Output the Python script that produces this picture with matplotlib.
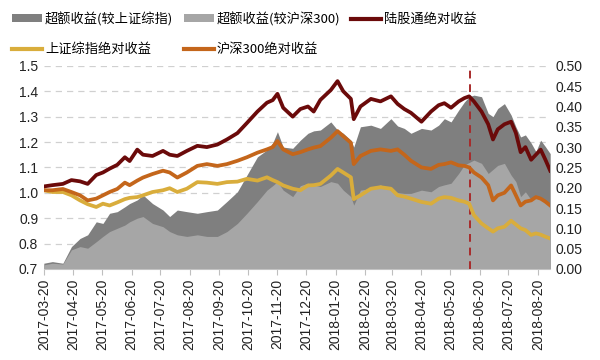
import matplotlib
matplotlib.use("Agg")
import matplotlib.pyplot as plt
import matplotlib.dates as mdates
import pandas as pd
from matplotlib.patches import Patch
from matplotlib.lines import Line2D

plt.rcParams["font.family"] = ["Liberation Sans", "Noto Sans CJK SC", "DejaVu Sans"]

# 日期（按图读取，约每周一个点）
dates = pd.to_datetime([
    "2017-03-20", "2017-03-29", "2017-04-09", "2017-04-18", "2017-04-27", "2017-05-05",
    "2017-05-14", "2017-05-21", "2017-05-28", "2017-06-05", "2017-06-13", "2017-06-18",
    "2017-06-26", "2017-07-02", "2017-07-12", "2017-07-23", "2017-07-30", "2017-08-07",
    "2017-08-17", "2017-08-28", "2017-09-07", "2017-09-18", "2017-09-28", "2017-10-09",
    "2017-10-19", "2017-10-30", "2017-11-09", "2017-11-15", "2017-11-20", "2017-11-26",
    "2017-12-06", "2017-12-14", "2017-12-22", "2017-12-28", "2018-01-04", "2018-01-15",
    "2018-01-22", "2018-01-28", "2018-02-05", "2018-02-08", "2018-02-15", "2018-02-26",
    "2018-03-08", "2018-03-19", "2018-03-26", "2018-04-02", "2018-04-09", "2018-04-20",
    "2018-04-30", "2018-05-08", "2018-05-14", "2018-05-21", "2018-05-29", "2018-06-04",
    "2018-06-09", "2018-06-14", "2018-06-22", "2018-06-29", "2018-07-04", "2018-07-09",
    "2018-07-16", "2018-07-23", "2018-07-28", "2018-08-02", "2018-08-07", "2018-08-13",
    "2018-08-18", "2018-08-23", "2018-08-28", "2018-09-02",
])

# 陆股通绝对收益（左轴）
lgt = [1.025, 1.03, 1.035, 1.05, 1.045, 1.035, 1.07, 1.08, 1.095, 1.11, 1.14, 1.125,
       1.17, 1.15, 1.145, 1.165, 1.15, 1.145, 1.165, 1.185, 1.18, 1.19, 1.21, 1.235,
       1.275, 1.32, 1.355, 1.365, 1.39, 1.335, 1.30, 1.33, 1.34, 1.32, 1.366, 1.405,
       1.44, 1.40, 1.37, 1.29, 1.34, 1.37, 1.36, 1.38, 1.35, 1.33, 1.315, 1.28,
       1.32, 1.345, 1.353, 1.335, 1.36, 1.373, 1.38, 1.36, 1.32, 1.27, 1.21, 1.25,
       1.27, 1.28, 1.236, 1.16, 1.18, 1.13, 1.15, 1.17, 1.13, 1.087]

# 沪深300绝对收益（左轴）
hs300 = [1.01, 1.01, 1.015, 1.003, 0.99, 0.97, 0.977, 0.99, 1.003, 1.015, 1.04, 1.03,
         1.048, 1.06, 1.074, 1.087, 1.08, 1.06, 1.08, 1.106, 1.113, 1.106, 1.113, 1.126,
         1.14, 1.158, 1.171, 1.18, 1.204, 1.171, 1.152, 1.16, 1.171, 1.178, 1.184, 1.217,
         1.243, 1.223, 1.197, 1.113, 1.145, 1.165, 1.171, 1.165, 1.171, 1.15, 1.126, 1.10,
         1.094, 1.11, 1.113, 1.12, 1.108, 1.106, 1.10, 1.08, 1.06, 1.03, 0.97, 0.99,
         1.00, 1.029, 0.99, 0.95, 0.965, 0.97, 0.983, 0.977, 0.965, 0.95]

# 上证综指绝对收益（左轴）
shzz = [1.01, 1.003, 1.003, 0.99, 0.97, 0.955, 0.944, 0.957, 0.95, 0.962, 0.975, 0.98,
        0.983, 0.99, 1.003, 1.01, 1.018, 1.003, 1.016, 1.042, 1.04, 1.035, 1.042, 1.044,
        1.055, 1.048, 1.061, 1.05, 1.042, 1.029, 1.016, 1.01, 1.029, 1.03, 1.035, 1.068,
        1.094, 1.08, 1.061, 0.975, 0.99, 1.016, 1.022, 1.016, 0.99, 0.985, 0.977, 0.964,
        0.957, 0.977, 0.983, 0.98, 0.97, 0.965, 0.957, 0.912, 0.879, 0.86, 0.847, 0.86,
        0.866, 0.89, 0.875, 0.86, 0.853, 0.834, 0.84, 0.835, 0.827, 0.82]

# 超额收益（较上证综指）（右轴）
ex_sh = [0.014, 0.018, 0.014, 0.055, 0.075, 0.084, 0.116, 0.112, 0.137, 0.141, 0.153, 0.161,
         0.17, 0.182, 0.161, 0.145, 0.129, 0.145, 0.141, 0.137, 0.141, 0.145, 0.166, 0.19,
         0.231, 0.276, 0.293, 0.31, 0.338, 0.30, 0.297, 0.317, 0.334, 0.34, 0.342, 0.362,
         0.342, 0.334, 0.317, 0.30, 0.35, 0.354, 0.346, 0.37, 0.352, 0.346, 0.334, 0.346,
         0.342, 0.354, 0.37, 0.362, 0.391, 0.411, 0.424, 0.428, 0.424, 0.383, 0.375, 0.395,
         0.407, 0.379, 0.35, 0.325, 0.33, 0.31, 0.289, 0.317, 0.301, 0.284]

# 超额收益（较沪深300）（右轴）
ex_hs = [0.01, 0.014, 0.012, 0.047, 0.055, 0.051, 0.067, 0.08, 0.092, 0.10, 0.108, 0.116,
         0.125, 0.129, 0.112, 0.104, 0.092, 0.084, 0.08, 0.084, 0.08, 0.08, 0.092, 0.112,
         0.137, 0.166, 0.194, 0.205, 0.215, 0.194, 0.178, 0.205, 0.211, 0.207, 0.203, 0.215,
         0.211, 0.194, 0.178, 0.157, 0.194, 0.198, 0.207, 0.194, 0.188, 0.186, 0.186, 0.194,
         0.19, 0.203, 0.207, 0.211, 0.235, 0.256, 0.262, 0.268, 0.26, 0.235, 0.245, 0.255,
         0.26, 0.231, 0.215, 0.178, 0.19, 0.17, 0.175, 0.178, 0.166, 0.161]

left_ticks = [0.7, 0.8, 0.9, 1.0, 1.1, 1.2, 1.3, 1.4, 1.5]
right_ticks = [0.00, 0.05, 0.10, 0.15, 0.20, 0.25, 0.30, 0.35, 0.40, 0.45, 0.50]
month_ticks = pd.date_range("2017-03-01", "2018-08-01", freq="MS") + pd.Timedelta(days=19)
mark_date = pd.Timestamp("2018-06-10")

C_DARK = "#7f7f7f"
C_LIGHT = "#a6a6a6"
C_LGT = "#6b0a0a"
C_SH = "#d9ad3c"
C_HS = "#c4661b"

fig = plt.figure(figsize=(6, 3.6), dpi=100)
ax_a = fig.add_axes([0.073, 0.253, 0.844, 0.564])   # 面积（右轴刻度）
ax_l = ax_a.twinx()                                 # 折线（左轴刻度）

ax_a.fill_between(dates, 0, ex_sh, color=C_DARK, lw=0, zorder=2)
ax_a.fill_between(dates, 0, ex_hs, color=C_LIGHT, lw=0, zorder=3)
ax_a.set_ylim(0, 0.5)
ax_a.set_yticks(right_ticks)
ax_a.set_yticklabels([f"{t:.2f}" for t in right_ticks])
ax_a.yaxis.tick_right()
# 网格线按左轴刻度画在面积下方
for v in left_ticks[1:]:
    ax_a.axhline((v - 0.7) / 0.8 * 0.5, color="#d0d0d0", lw=0.9, ls=(0, (5, 4)), zorder=1)

ax_l.plot(dates, shzz, color=C_SH, lw=2.7, zorder=3)
ax_l.plot(dates, hs300, color=C_HS, lw=2.7, zorder=4)
ax_l.plot(dates, lgt, color=C_LGT, lw=2.7, zorder=5)
ax_l.axvline(mark_date, color="#a82b2b", lw=1.4, ls=(0, (4, 3)), zorder=2)
ax_l.set_ylim(0.7, 1.5)
ax_l.set_yticks(left_ticks)
ax_l.set_yticklabels([f"{t:.1f}" for t in left_ticks])
ax_l.yaxis.tick_left()

ax_a.set_xlim(dates[0], dates[-1])
ax_a.set_xticks(month_ticks)
ax_a.xaxis.set_major_formatter(mdates.DateFormatter("%Y-%m-%d"))
for lab in ax_a.get_xticklabels():
    lab.set_rotation(90)

for a in (ax_a, ax_l):
    for s in ("left", "right", "top"):
        a.spines[s].set_visible(False)
    a.tick_params(axis="y", length=0, labelsize=10, colors="#222222", pad=4)
ax_l.spines["bottom"].set_visible(False)
ax_a.spines["bottom"].set_color("#d9d9d9")
ax_a.tick_params(axis="x", length=4, color="#bfbfbf", labelsize=10,
                 labelcolor="#222222", pad=3)
ax_l.tick_params(axis="x", bottom=False, labelbottom=False)

handles = [
    Patch(facecolor=C_DARK, edgecolor="none"),
    Line2D([], [], color=C_SH, lw=3),
    Patch(facecolor=C_LIGHT, edgecolor="none"),
    Line2D([], [], color=C_HS, lw=3),
    Line2D([], [], color=C_LGT, lw=3),
]
labels = ["超额收益(较上证综指)", "上证综指绝对收益", "超额收益(较沪深300)",
          "沪深300绝对收益", "陆股通绝对收益"]
fig.legend(handles, labels, ncol=3, loc="upper left", bbox_to_anchor=(0.0, 1.0),
           frameon=False, prop={"family": ["Noto Sans CJK SC", "DejaVu Sans"], "size": 9.5},
           handlelength=2.3, handleheight=0.55, handletextpad=0.2,
           columnspacing=0.8, labelspacing=1.3, borderaxespad=0.5)

fig.savefig("out.png", dpi=100)
